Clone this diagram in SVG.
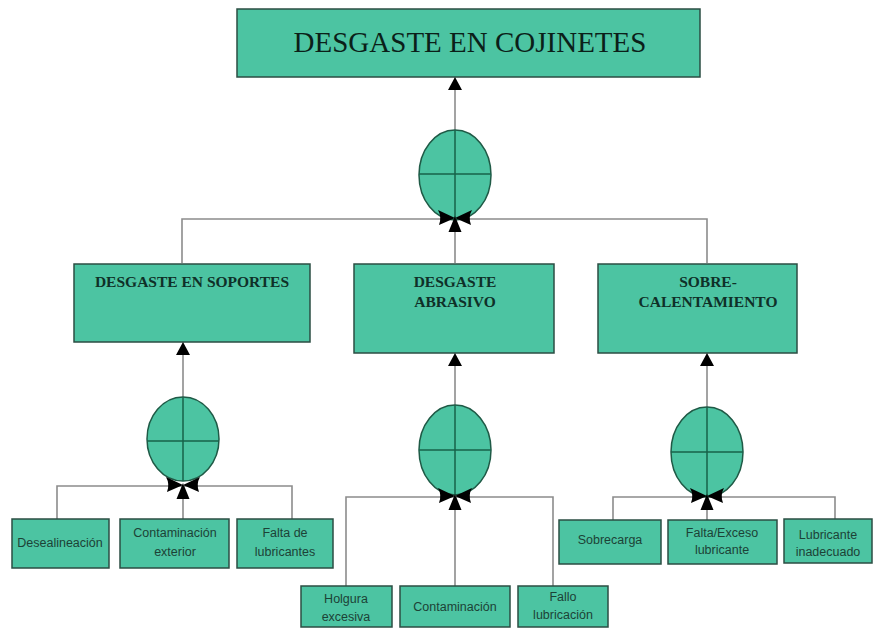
<svg xmlns="http://www.w3.org/2000/svg" width="874" height="630" viewBox="0 0 874 630">
<style>
.box{fill:#4cc4a2;stroke:#2b4d43;stroke-width:1.5}
.gate{fill:#4cc4a2;stroke:#1f5a46;stroke-width:1.5}
.cross{stroke:#17624a;stroke-width:1.5;fill:none}
.conn{stroke:#8c8c8c;stroke-width:1.6;fill:none}
.t1{font-family:"Liberation Serif",serif;font-size:29px;fill:#0b1f19;text-anchor:middle}
.t2{font-family:"Liberation Serif",serif;font-size:15.5px;font-weight:bold;fill:#0f3028;text-anchor:middle}
.t3{font-family:"Liberation Sans",Arial,sans-serif;font-size:12.5px;fill:#1c4236;text-anchor:middle}
</style>
<defs>
<g id="bow">
<path d="M-17,-8 Q-13,-1 -16,7 L0,0 Z M17,-8 Q13,-1 16,7 L0,0 Z M0,-2 L-6.5,14 L6.5,14 Z" fill="#000"/>
</g>
<path id="arr" d="M0,0 L-7,13 L7,13 Z" fill="#000"/>
</defs>
<rect width="874" height="630" fill="#fff"/>
<g id="connectors">
<line class="conn" x1="455" y1="88" x2="455" y2="130"/>
<path class="conn" d="M182,263 V219 H707 V263 M455,219 V263"/>
<line class="conn" x1="183" y1="353" x2="183" y2="397"/>
<line class="conn" x1="455" y1="364" x2="455" y2="405"/>
<line class="conn" x1="707" y1="364" x2="707" y2="407"/>
<path class="conn" d="M57,519 V486 H292 V519 M183,486 V519"/>
<path class="conn" d="M346,586 V497 H553 V586 M455,497 V586"/>
<path class="conn" d="M613,520 V497 H835 V520 M707,497 V520"/>
</g>
<g id="top">
<rect class="box" x="237" y="9" width="463" height="68"/>
<text class="t1" x="470" y="52">DESGASTE EN COJINETES</text>
</g>
<g id="gate-top">
<ellipse class="gate" cx="455" cy="175" rx="36" ry="45"/>
<path class="cross" d="M419,174 H491 M455,130 V220"/>
</g>
<g id="soportes">
<rect class="box" x="74" y="264" width="236" height="78"/>
<text class="t2" x="192" y="287">DESGASTE EN SOPORTES</text>
</g>
<g id="abrasivo">
<rect class="box" x="354" y="264" width="200" height="89"/>
<text class="t2" x="455" y="287">DESGASTE</text>
<text class="t2" x="455" y="307">ABRASIVO</text>
</g>
<g id="calentamiento">
<rect class="box" x="598" y="264" width="199" height="89"/>
<text class="t2" x="708" y="287">SOBRE-</text>
<text class="t2" x="708" y="307">CALENTAMIENTO</text>
</g>
<g id="gate-left">
<ellipse class="gate" cx="183" cy="439" rx="36" ry="42"/>
<path class="cross" d="M147,441 H219 M183,397 V481"/>
</g>
<g id="gate-mid">
<ellipse class="gate" cx="455" cy="450" rx="36" ry="45"/>
<path class="cross" d="M419,450 H491 M455,405 V495"/>
</g>
<g id="gate-right">
<ellipse class="gate" cx="707" cy="452" rx="36" ry="45"/>
<path class="cross" d="M671,452 H743 M707,407 V497"/>
</g>
<g id="desalineacion">
<rect class="box" x="12" y="519" width="97" height="49"/>
<text class="t3" x="60" y="547">Desealineación</text>
</g>
<g id="contaminacion-ext">
<rect class="box" x="120" y="519" width="109" height="49"/>
<text class="t3" x="175" y="537">Contaminación</text>
<text class="t3" x="175" y="556">exterior</text>
</g>
<g id="falta-lub">
<rect class="box" x="237" y="519" width="96" height="49"/>
<text class="t3" x="285" y="537">Falta de</text>
<text class="t3" x="285" y="556">lubricantes</text>
</g>
<g id="holgura">
<rect class="box" x="301" y="586" width="91" height="41"/>
<text class="t3" x="346" y="603">Holgura</text>
<text class="t3" x="346" y="621">excesiva</text>
</g>
<g id="contaminacion">
<rect class="box" x="400" y="586" width="110" height="41"/>
<text class="t3" x="455" y="611">Contaminación</text>
</g>
<g id="fallo-lub">
<rect class="box" x="518" y="586" width="90" height="41"/>
<text class="t3" x="563" y="601">Fallo</text>
<text class="t3" x="563" y="619">lubricación</text>
</g>
<g id="sobrecarga">
<rect class="box" x="559" y="520" width="102" height="44"/>
<text class="t3" x="610" y="544">Sobrecarga</text>
</g>
<g id="falta-exceso">
<rect class="box" x="668" y="520" width="109" height="44"/>
<text class="t3" x="722" y="537">Falta/Exceso</text>
<text class="t3" x="722" y="554">lubricante</text>
</g>
<g id="lub-inadecuado">
<rect class="box" x="784" y="519" width="88" height="44"/>
<text class="t3" x="828" y="539">Lubricante</text>
<text class="t3" x="828" y="556">inadecuado</text>
</g>
<g id="markers">
<use href="#arr" x="455" y="77"/>
<use href="#arr" x="183" y="342"/>
<use href="#arr" x="455" y="353"/>
<use href="#arr" x="707" y="353"/>
<use href="#bow" x="455" y="218"/>
<use href="#bow" x="183" y="485"/>
<use href="#bow" x="455" y="496"/>
<use href="#bow" x="707" y="496"/>
</g>
</svg>
